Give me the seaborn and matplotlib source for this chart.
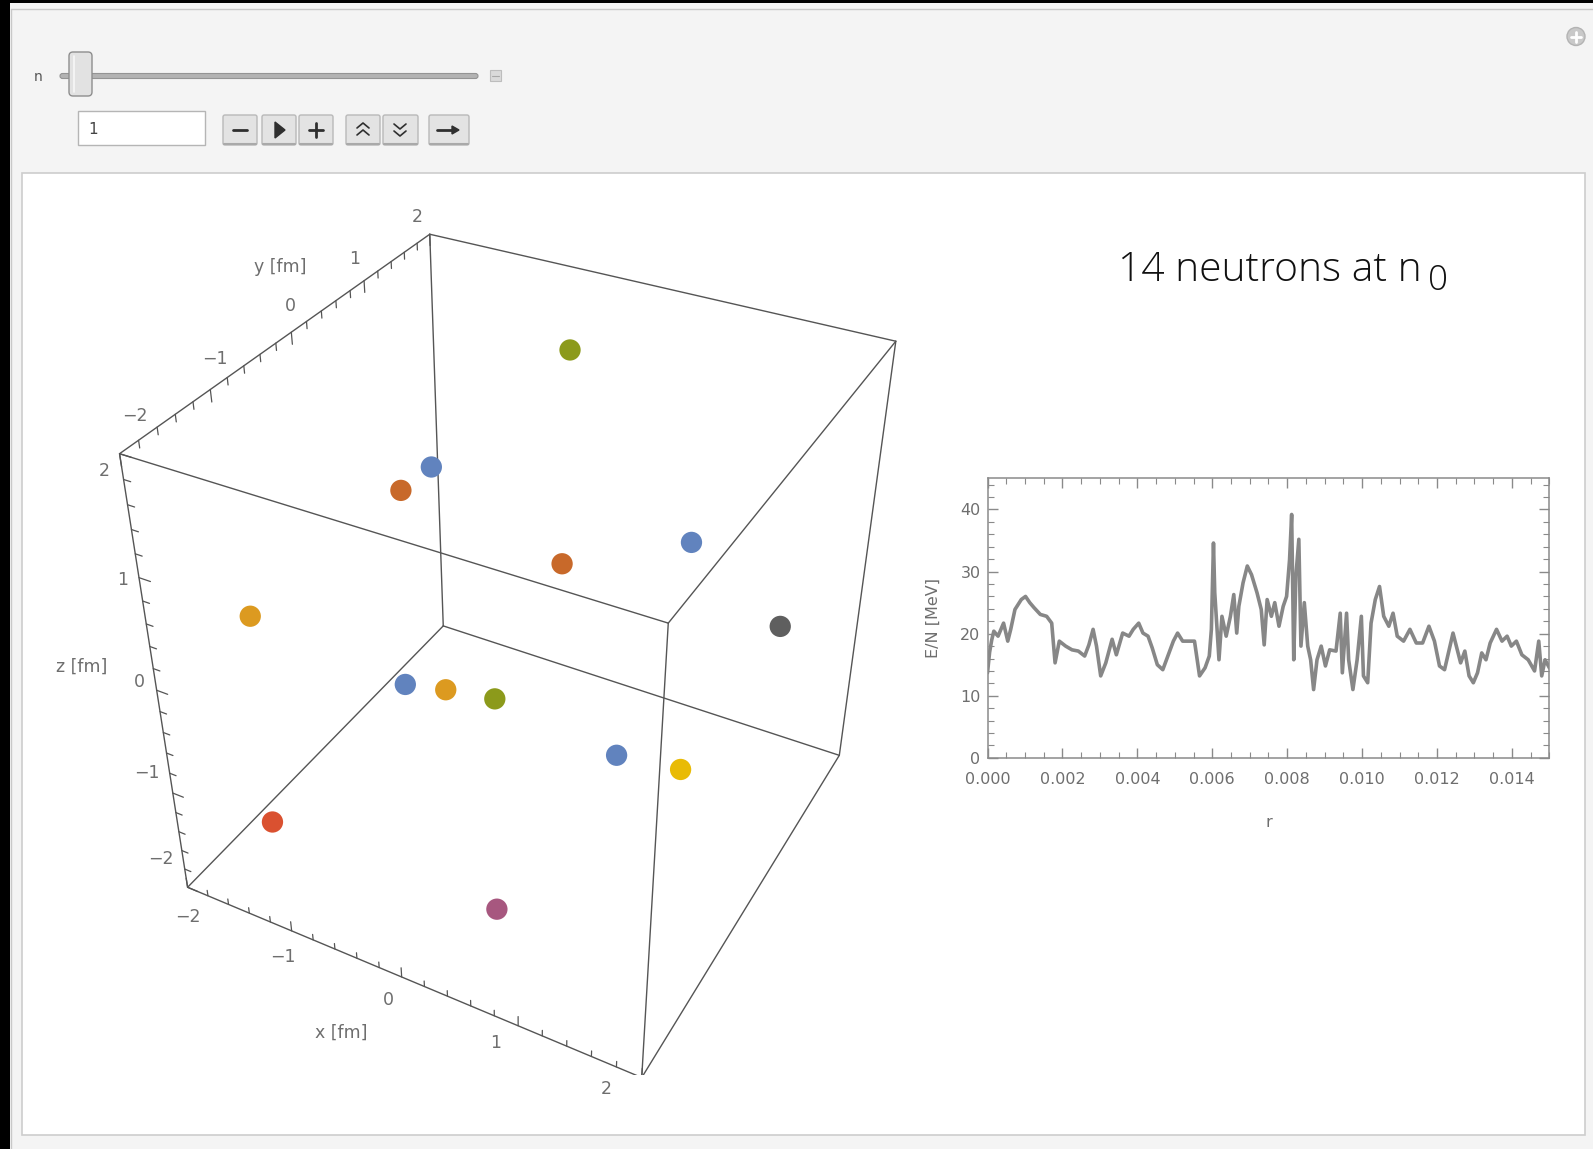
import numpy as np
import pandas as pd
import matplotlib
matplotlib.use("Agg")
import matplotlib.pyplot as plt
import seaborn as sns
from matplotlib.patches import Rectangle, FancyBboxPatch, Circle, Polygon
from matplotlib.ticker import MultipleLocator, FormatStrFormatter

W, H = 1593, 1149

# ---------------- data ----------------
# neutron positions [fm]
px_fm = [-0.37, -1.05, -1.06, 0.22, 1.13, -1.53, 1.67, -0.84, -0.50, -0.09, 1.00, 1.43, -1.46, 0.56]
py_fm = [1.37, 0.37, -0.06, 0.13, 0.42, -1.42, 1.02, -0.47, -0.42, -0.37, -0.46, -0.24, -1.52, -1.52]
pz_fm = [1.63, 0.91, 0.93, 0.56, 0.87, 0.46, -0.09, -0.57, -0.53, -0.50, -0.56, -0.69, -1.45, -1.44]
p_colors = ["#8C9A1B", "#6183BE", "#C8692A", "#C8692A", "#6183BE", "#DC9A20", "#5F5F5F",
            "#6183BE", "#DC9A20", "#8C9A1B", "#6183BE", "#E9BB05", "#DA5130", "#A7577F"]

tick_text = ["\u22122", "\u22121", "0", "1", "2"]

# energy per neutron vs r
r_vals = [0.000e-3, 0.056e-3, 0.113e-3, 0.169e-3, 0.282e-3, 0.429e-3, 0.541e-3, 0.620e-3, 0.733e-3, 0.902e-3,
          1.015e-3, 1.128e-3, 1.241e-3, 1.410e-3, 1.579e-3, 1.714e-3, 1.804e-3, 1.917e-3, 2.086e-3, 2.256e-3,
          2.425e-3, 2.594e-3, 2.707e-3, 2.819e-3, 2.910e-3, 3.022e-3, 3.158e-3, 3.327e-3, 3.440e-3, 3.609e-3,
          3.778e-3, 3.891e-3, 4.037e-3, 4.150e-3, 4.286e-3, 4.398e-3, 4.534e-3, 4.680e-3, 4.827e-3, 4.962e-3,
          5.075e-3, 5.210e-3, 5.357e-3, 5.526e-3, 5.661e-3, 5.808e-3, 5.921e-3, 5.977e-3, 6.033e-3, 6.067e-3,
          6.112e-3, 6.180e-3, 6.259e-3, 6.372e-3, 6.485e-3, 6.575e-3, 6.654e-3, 6.710e-3, 6.823e-3, 6.936e-3,
          7.049e-3, 7.195e-3, 7.308e-3, 7.387e-3, 7.466e-3, 7.579e-3, 7.669e-3, 7.782e-3, 7.894e-3, 7.985e-3,
          8.064e-3, 8.120e-3, 8.176e-3, 8.233e-3, 8.312e-3, 8.368e-3, 8.458e-3, 8.549e-3, 8.627e-3, 8.706e-3,
          8.797e-3, 8.909e-3, 9.022e-3, 9.135e-3, 9.304e-3, 9.417e-3, 9.473e-3, 9.586e-3, 9.642e-3, 9.755e-3,
          9.868e-3, 9.981e-3, 10.037e-3, 10.150e-3, 10.240e-3, 10.353e-3, 10.466e-3, 10.578e-3, 10.714e-3, 10.827e-3,
          10.939e-3, 11.108e-3, 11.278e-3, 11.447e-3, 11.616e-3, 11.785e-3, 11.932e-3, 12.067e-3, 12.202e-3, 12.349e-3,
          12.428e-3, 12.518e-3, 12.631e-3, 12.744e-3, 12.857e-3, 12.970e-3, 13.082e-3, 13.195e-3, 13.308e-3, 13.420e-3,
          13.590e-3, 13.736e-3, 13.872e-3, 13.984e-3, 14.120e-3, 14.266e-3, 14.435e-3, 14.605e-3, 14.717e-3, 14.796e-3,
          14.886e-3, 15.000e-3]
en_vals = [13.7, 17.0, 19.0, 20.4, 19.6, 21.7, 18.8, 20.7, 23.9, 25.5,
           26.0, 25.0, 24.2, 23.1, 22.8, 21.7, 15.3, 18.8, 18.0, 17.4,
           17.2, 16.4, 18.2, 20.7, 18.0, 13.2, 15.3, 19.1, 16.6, 20.1,
           19.6, 20.7, 21.7, 20.1, 19.6, 17.7, 15.0, 14.2, 16.6, 18.8,
           20.1, 18.8, 18.8, 18.8, 13.2, 14.5, 16.4, 20.7, 34.6, 26.6,
           22.3, 15.8, 22.8, 19.6, 22.8, 26.3, 20.1, 24.4, 28.2, 30.9,
           29.5, 26.6, 23.9, 18.2, 25.5, 22.8, 25.0, 21.2, 24.4, 26.0,
           31.9, 39.2, 15.8, 29.3, 35.2, 18.0, 25.0, 18.0, 15.8, 11.0,
           15.8, 18.0, 14.8, 17.4, 17.2, 23.3, 13.7, 23.3, 15.8, 11.0,
           15.8, 22.8, 13.2, 12.1, 21.7, 25.5, 27.6, 22.8, 21.2, 23.3,
           19.6, 18.8, 20.7, 18.5, 18.5, 21.2, 18.8, 14.8, 14.2, 18.0,
           20.1, 18.0, 15.3, 17.2, 13.2, 12.1, 13.7, 16.9, 15.8, 18.5,
           20.7, 18.8, 19.6, 18.0, 18.8, 16.6, 15.8, 14.0, 18.8, 13.2,
           15.8, 14.5]
x_ticks_line = [0.000, 0.002, 0.004, 0.006, 0.008, 0.010, 0.012, 0.014]
y_ticks_line = [0, 10, 20, 30, 40]

# ---------------- style ----------------
sns.set_theme(style="white")
plt.rcParams["font.family"] = ["DejaVu Sans"]
GRAY_TXT = "#6e6e6e"
TITLE_FONT = ["Open Sans", "DejaVu Sans"]

fig = plt.figure(figsize=(W / 100, H / 100), dpi=100)
fig.patch.set_facecolor("#f4f4f4")

# ---------------- UI decoration (pixel coordinates) ----------------
ui = fig.add_axes([0, 0, 1, 1])
ui.set_xlim(0, W)
ui.set_ylim(H, 0)
ui.axis("off")
ui.set_zorder(-10)
ui.add_patch(Rectangle((0, 0), 10, H, fc="black", ec="none"))
ui.add_patch(Rectangle((0, 0), W, 3, fc="black", ec="none"))
ui.plot([11, W], [9, 9], color="#c8c8c8", lw=1)
ui.plot([11, 11], [9, H], color="#c8c8c8", lw=1)
ui.add_patch(Rectangle((22, 173), 1563, 962, fc="white", ec="#cdcdcd", lw=1.2))
# slider
ui.text(38, 77, "n", fontsize=10, color="#555555", ha="center", va="center")
ui.add_patch(FancyBboxPatch((60, 73.5), 418, 5, boxstyle="round,pad=0,rounding_size=2.5",
                            fc="#b3b3b3", ec="#949494", lw=0.8))
ui.add_patch(FancyBboxPatch((69, 52), 23, 44, boxstyle="round,pad=0,rounding_size=4",
                            fc="#e2e2e2", ec="#8e8e8e", lw=1.0))
ui.plot([74, 74], [56, 92], color="#f7f7f7", lw=1.2)
ui.add_patch(Rectangle((490, 70), 11, 11, fc="#dadada", ec="#bdbdbd", lw=0.8))
ui.plot([492, 499], [75.5, 75.5], color="#a8a8a8", lw=0.8)
# input box
ui.add_patch(Rectangle((78, 111), 127, 34, fc="white", ec="#b5b5b5", lw=1))
ui.text(88, 130, "1", fontsize=11, color="#444444", va="center")
# buttons
btns = [(223, 257), (262, 296), (299, 333), (346, 380), (383, 418), (429, 469)]
for b0, b1 in btns:
    ui.add_patch(FancyBboxPatch((b0, 115), b1 - b0, 30, boxstyle="round,pad=0,rounding_size=2",
                                fc="#e3e3e3", ec="#b9b9b9", lw=1))
    ui.plot([b0 + 1, b1 - 1], [144, 144], color="#a9a9a9", lw=1.5)
ic = "#2f2f2f"
ui.plot([233, 247], [130, 130], color=ic, lw=2.0)
ui.add_patch(Polygon([[275, 122], [275, 138], [285, 130]], closed=True, fc=ic, ec=ic))
ui.plot([309, 323], [130, 130], color=ic, lw=2.0)
ui.plot([316, 316], [123, 137], color=ic, lw=2.0)
for yy in (123, 130):
    ui.plot([357, 363, 369], [yy + 5, yy, yy + 5], color=ic, lw=1.2)
for yy in (124, 131):
    ui.plot([394, 400, 406], [yy, yy + 5, yy], color=ic, lw=1.2)
ui.plot([437, 453], [130, 130], color=ic, lw=2.0)
ui.add_patch(Polygon([[452, 126], [452, 134], [459, 130]], closed=True, fc=ic, ec=ic))
# top-right icon
ui.add_patch(Circle((1576, 36.5), 9, fc="#c9c9c9", ec="#b3b3b3", lw=1))
ui.plot([1571, 1581], [36.5, 36.5], color="white", lw=2)
ui.plot([1576, 1576], [31.5, 41.5], color="white", lw=2)
# title
ui.text(1118, 281, "14 neutrons at n", fontsize=29.3, family=TITLE_FONT,
        fontweight="light", color="#111111", va="baseline", ha="left")
ui.text(1428, 290, "0", fontsize=25, family=TITLE_FONT,
        fontweight="light", color="#111111", va="baseline", ha="left")

# ---------------- 3D scatter ----------------
ax3 = fig.add_axes([0.04866, 0.06416, 0.55062, 0.76339], projection="3d")
ax3.set_facecolor((1, 1, 1, 0))
ax3.set_xlim(-2, 2)
ax3.set_ylim(-2, 2)
ax3.set_zlim(-2, 2)
ax3.set_box_aspect((1, 1, 1))
ax3.view_init(elev=36.25, azim=-61.64, roll=-0.03)
ax3.set_proj_type("persp", focal_length=0.3746)
ax3.set_axis_off()
ax3.computed_zorder = False

lo, hi = -2, 2
corners = [(x, y, z) for x in (lo, hi) for y in (lo, hi) for z in (lo, hi)]
edge_col = "#555555"
for i in range(8):
    for j in range(i + 1, 8):
        if sum(a != b for a, b in zip(corners[i], corners[j])) == 1:
            ax3.plot(*zip(corners[i], corners[j]), color=edge_col, lw=1.0, zorder=1)

# ticks (major on integers, minor every 0.2)
for k in range(21):
    t = lo + 0.2 * k
    major = abs(t - round(t)) < 1e-6
    L = 0.10 if major else 0.06
    ax3.plot([t, t], [lo, lo], [lo, lo + L], color=edge_col, lw=0.9, zorder=1)      # x axis
    ax3.plot([lo, lo], [t, t], [hi, hi - L], color=edge_col, lw=0.9, zorder=1)      # y axis
    ax3.plot([lo, lo + L], [lo, lo], [t, t], color=edge_col, lw=0.9, zorder=1)      # z axis

# tick labels: anchored at 3-D positions, projected with the axes' own projection
M3 = ax3.get_proj()


def label3d(x, y, z, s, **kw):
    h = M3 @ np.array([x, y, z, 1.0])
    ax3.text2D(h[0] / h[3], h[1] / h[3], s, transform=ax3.transData, **kw)


xlab_pos = [(-1.80, -2.26, -2), (-0.90, -2.26, -2), (0.03, -2.24, -2), (0.93, -2.22, -2), (1.82, -2.21, -2)]
ylab_pos = [(-2.23, -1.55, 2), (-2.24, -0.62, 2), (-2.26, 0.36, 2), (-2.28, 1.30, 2), (-2.27, 2.24, 2)]
zlab_pos = [(-2.24, -2, -1.80), (-2.23, -2, -0.89), (-2.16, -2, 0.02), (-2.16, -2, 0.93), (-2.16, -2, 1.82)]
tk_kw = dict(fontsize=12.5, color=GRAY_TXT, ha="center", va="center")
for lab, p in zip(tick_text, xlab_pos):
    label3d(*p, lab, **tk_kw)
for lab, p in zip(tick_text, ylab_pos):
    label3d(*p, lab, **tk_kw)
for lab, p in zip(tick_text, zlab_pos):
    label3d(*p, lab, **tk_kw)
label3d(-0.10, -2.67, -2, "x [fm]", **tk_kw)
label3d(-2.72, 0.89, 2, "y [fm]", **tk_kw)
label3d(-2.71, -2, -0.04, "z [fm]", **tk_kw)

ax3.scatter(px_fm, py_fm, pz_fm, s=235, c=p_colors, depthshade=False, linewidths=0, zorder=5)

# ---------------- energy line plot ----------------
axl = fig.add_axes([0.6199, 0.3404, 0.3527, 0.2432])
df = pd.DataFrame({"r": r_vals, "E/N": en_vals})
sns.lineplot(data=df, x="r", y="E/N", ax=axl, color="#878787", lw=2.6, estimator=None, sort=False)
axl.set_xlim(0, 0.015)
axl.set_ylim(0, 45)
axl.set_xticks(x_ticks_line)
axl.set_yticks(y_ticks_line)
axl.xaxis.set_major_formatter(FormatStrFormatter("%.3f"))
axl.xaxis.set_minor_locator(MultipleLocator(0.0005))
axl.yaxis.set_minor_locator(MultipleLocator(2))
axl.tick_params(which="both", direction="in", top=True, right=True, bottom=True, left=True,
                colors="#8a8a8a", labelcolor=GRAY_TXT, labelsize=11.5)
axl.tick_params(which="major", length=7, width=1)
axl.tick_params(which="minor", length=4, width=0.8)
axl.tick_params(axis="x", which="major", pad=10)
axl.tick_params(axis="y", which="major", pad=5)
for sp in axl.spines.values():
    sp.set_color("#8a8a8a")
    sp.set_linewidth(1.1)
axl.set_facecolor("white")
axl.set_xlabel("r", fontsize=11.5, color=GRAY_TXT, labelpad=20)
axl.set_ylabel("E/N [MeV]", fontsize=11.5, color=GRAY_TXT, labelpad=14)

fig.savefig("out.png", dpi=100)
